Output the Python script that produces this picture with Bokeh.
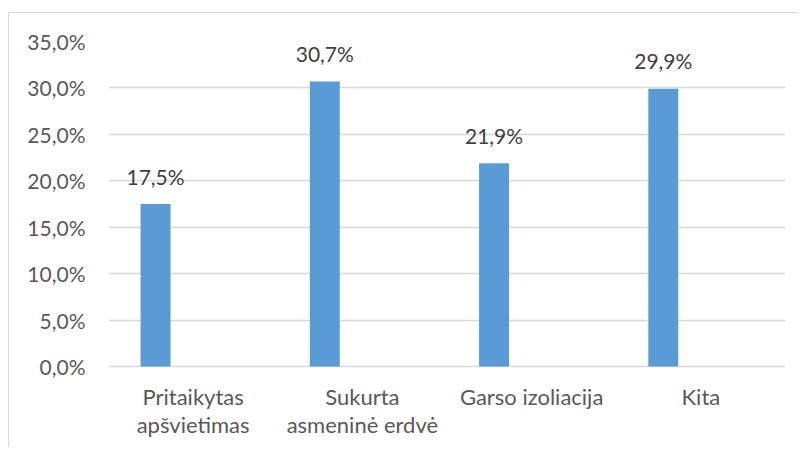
from bokeh.plotting import figure
from bokeh.models import ColumnDataSource, FixedTicker, CustomJSTickFormatter, FactorRange, Range1d
from bokeh.transform import dodge
from bokeh.core.properties import value
from bokeh.embed import file_html
from bokeh.resources import INLINE

categories = ["Pritaikytas apšvietimas", "Sukurta asmeninė erdvė", "Garso izoliacija", "Kita"]
label_line1 = ["Pritaikytas", "Sukurta", "Garso izoliacija", "Kita"]
label_line2 = ["apšvietimas", "asmeninė erdvė", "", ""]
values = [0.175, 0.307, 0.219, 0.299]
y_ticks = [0.0, 0.05, 0.10, 0.15, 0.20, 0.25, 0.30, 0.35]

labels = [f"{v*100:.1f}".replace(".", ",") + "%" for v in values]
src = ColumnDataSource(dict(cat=categories, val=values, lab=labels, l1=label_line1, l2=label_line2))

FONT = "Lato"
FIG_H = 435
TOP = 28          # canvas px above the 35% line
AXIS_PX = 325     # px between 0% and 35%
y_max = y_ticks[-1]
y_min = -y_max * (FIG_H - TOP - AXIS_PX) / AXIS_PX   # room below 0 for category labels

p = figure(x_range=FactorRange(*categories, range_padding=0), y_range=Range1d(y_min, y_max),
           width=790, height=FIG_H, output_backend="svg", toolbar_location=None,
           min_border_left=99, min_border_right=14, min_border_top=TOP, min_border_bottom=0)
p.outline_line_color = None
p.styles = {"border-top": "1px solid #d9d9d9", "border-left": "1px solid #d9d9d9",
            "margin-left": "8px", "margin-top": "12px"}

p.vbar(x=dodge("cat", -0.222, range=p.x_range), top="val", width=0.177, bottom=0,
       source=src, fill_color="#5B9BD5", line_color=None)
p.text(x=dodge("cat", -0.222, range=p.x_range), y="val", text="lab", source=src,
       text_align="center", text_baseline="alphabetic", y_offset=-28,
       text_font=value(FONT), text_font_size="21px", text_color="#404040")

for field, off in (("l1", 30), ("l2", 58)):
    p.text(x="cat", y=0, text=field, source=src, y_offset=off,
           text_align="center", text_baseline="alphabetic",
           text_font=value(FONT), text_font_size="22px", text_color="#595959")

p.yaxis.ticker = FixedTicker(ticks=y_ticks)
p.yaxis.formatter = CustomJSTickFormatter(code="return (tick*100).toFixed(1).replace('.', ',') + '%';")
p.yaxis.axis_line_color = None
p.yaxis.major_tick_line_color = None
p.yaxis.minor_tick_line_color = None
p.yaxis.major_label_standoff = 17
p.yaxis.major_label_text_font = FONT
p.yaxis.major_label_text_font_size = "21px"
p.yaxis.major_label_text_color = "#595959"

p.xaxis.visible = False

p.xgrid.grid_line_color = None
p.ygrid.grid_line_color = "#d9d9d9"
p.ygrid.grid_line_width = 1.3

open("out.html", "w").write(file_html(p, INLINE))
